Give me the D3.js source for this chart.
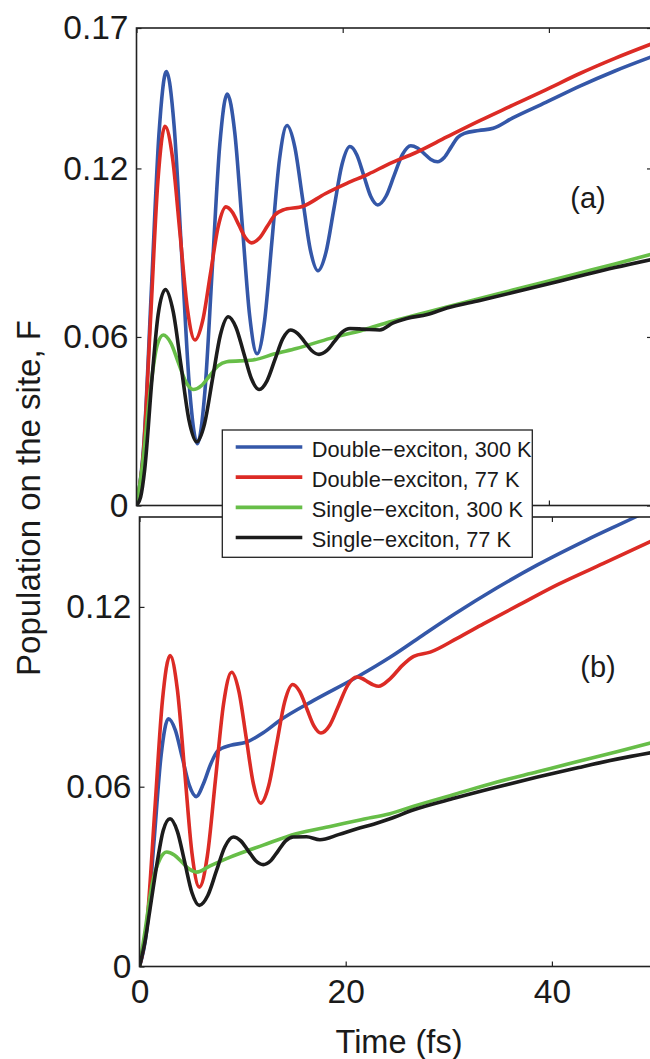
<!DOCTYPE html>
<html>
<head>
<meta charset="utf-8">
<script src="https://d3js.org/d3.v7.min.js"></script>
<style>
  body { margin: 0; background: #fff; }
  svg { display: block; }
  text { font-family: "Liberation Sans", Arial, Helvetica, sans-serif; fill: #1a1a1a; }
</style>
</head>
<body>
<div id="chart"></div>
<script>
// ---- data ----
const timeTicks = [0, 20, 40];
const timeDomain = [0, 50];
const yTicksA = [0, 0.06, 0.12, 0.17];
const yTicksB = [0, 0.06, 0.12];

const seriesNames = ["Double\u2212exciton, 300 K", "Double\u2212exciton, 77 K",
                     "Single\u2212exciton, 300 K", "Single\u2212exciton, 77 K"];

// panel (a)
const aDouble300T = [0,0.725,1.45,2.175,2.9,3.65,4.4,5.15,5.9,6.625,7.35,8.075,8.8,9.525,10.25,10.975,11.7,12.425,13.15,13.875,14.6,15.35,16.1,16.85,17.6,18.375,19.15,19.925,20.7,21.375,22.05,22.725,23.4,24.2,25.0,25.8,26.6,27.25,27.9,28.55,29.2,29.85,30.5,31.15,31.8,33.2,34.6,36.5,39.7,43,46.4,50];
const aDouble300V = [0,0.0226,0.0773,0.132,0.1545,0.1351,0.0883,0.0414,0.022,0.0402,0.0843,0.1283,0.1465,0.133,0.1003,0.0676,0.054,0.0659,0.0947,0.1234,0.1353,0.1277,0.1095,0.0912,0.0836,0.0901,0.1057,0.1213,0.1278,0.1248,0.1174,0.11,0.107,0.1101,0.1176,0.125,0.1281,0.1273,0.1253,0.1232,0.1224,0.1239,0.1275,0.131,0.1325,0.1335,0.1343,0.138,0.1435,0.1493,0.1547,0.1598];

const aDouble77T = [0,0.69,1.38,2.07,2.76,3.49,4.215,4.94,5.67,6.42,7.175,7.93,8.68,9.3,9.925,10.55,11.17,11.93,12.685,13.44,14.2,16.2,18.3,20.4,22.5,24.6,27,30.1,33.3,36.5,39.7,43,46.4,50];
const aDouble77V = [0,0.0198,0.0675,0.1152,0.135,0.1239,0.097,0.07,0.0589,0.0658,0.0826,0.0994,0.1063,0.1044,0.0999,0.0954,0.0935,0.0952,0.0994,0.1035,0.1052,0.1066,0.111,0.1147,0.118,0.1218,0.1255,0.1312,0.137,0.1425,0.148,0.1538,0.1592,0.1644];

const aSingle300T = [0,0.6,1.3,2.0,2.6,3.325,4.05,4.775,5.5,6.3,7.1,7.9,8.75,11.3,13.4,15.5,18.8,22,24.6,27.3,30.1,33.3,36.5,39.7,43,46.4,50];
const aSingle300V = [0,0.015,0.04,0.057,0.0607,0.0579,0.051,0.0441,0.0413,0.0427,0.0462,0.0497,0.0512,0.0518,0.054,0.0559,0.0595,0.0625,0.0654,0.068,0.0707,0.0737,0.0767,0.0797,0.0828,0.086,0.0895];

const aSingle77T = [0,0.4,0.8,1.5,2.1,2.8,3.56,4.32,5.08,5.84,6.605,7.37,8.135,8.9,9.65,10.4,11.15,11.9,12.66,13.425,14.19,14.95,15.64,16.325,17.01,17.7,18.45,19.2,19.95,20.7,22,23.6,24.9,26.2,28.2,30.1,33.3,36.5,39.7,43,46.4,50];
const aSingle77V = [0,0.003,0.013,0.045,0.068,0.0769,0.069,0.0498,0.0306,0.0227,0.0292,0.045,0.0607,0.0672,0.0634,0.0543,0.0451,0.0413,0.0444,0.0519,0.0594,0.0625,0.0612,0.0582,0.0551,0.0538,0.0551,0.0584,0.0617,0.063,0.0628,0.0625,0.065,0.0666,0.068,0.0703,0.073,0.0758,0.0787,0.0817,0.0847,0.0876];

// panel (b)
const bDouble300T = [0,0.7,1.4,2.1,2.8,3.475,4.15,4.825,5.5,6.2,6.9,7.6,8.8,10.4,12,13.6,16.9,21.1,24.3,27.4,30.6,34.6,38.6,43.3,48.1,50];
const bDouble300V = [0,0.0121,0.0414,0.0706,0.0827,0.0789,0.0697,0.0605,0.0567,0.061,0.0675,0.072,0.0738,0.0749,0.078,0.0821,0.0888,0.0966,0.1032,0.1104,0.1177,0.1262,0.134,0.1422,0.15,0.1532];

const bDouble77T = [0,0.74,1.48,2.22,2.96,3.67,4.38,5.09,5.8,6.585,7.37,8.155,8.94,9.64,10.345,11.05,11.75,12.53,13.305,14.08,14.86,15.545,16.23,16.915,17.6,18.47,19.335,20.2,21.07,21.6,22.135,22.67,23.2,24.3,25.5,26.6,28.2,30.8,33.4,37,40.6,45,50];
const bDouble77V = [0,0.0152,0.0519,0.0886,0.1038,0.0925,0.0652,0.0378,0.0265,0.037,0.0624,0.0877,0.0982,0.0918,0.0764,0.0609,0.0545,0.0603,0.0743,0.0883,0.0941,0.0917,0.086,0.0803,0.0779,0.0806,0.0873,0.0939,0.0966,0.0961,0.095,0.094,0.0935,0.096,0.1005,0.1035,0.1049,0.1095,0.1144,0.121,0.1275,0.1345,0.1425];

const bSingle300T = [0,0.5,1.2,2.0,2.64,3.37,4.1,4.82,5.55,6.8,8.8,12,15.2,18.6,21.5,24.3,26.6,30.6,34.6,38.6,42.6,46.3,50];
const bSingle300V = [0,0.011,0.027,0.036,0.0382,0.0372,0.0349,0.0325,0.0315,0.0335,0.0365,0.0405,0.0443,0.0468,0.049,0.051,0.0535,0.0575,0.0615,0.065,0.0685,0.0717,0.075];

const bSingle77T = [0,0.5,1.0,1.7,2.3,2.96,3.67,4.38,5.09,5.8,6.625,7.45,8.275,9.1,9.825,10.55,11.275,12,12.725,13.45,14.175,14.9,16.2,17.5,19.3,21.1,22.7,24.3,26.6,30.6,34.6,38.6,42.6,46.3,50];
const bSingle77V = [0,0.0077,0.0187,0.0344,0.0454,0.0493,0.0451,0.0349,0.0246,0.0204,0.0237,0.0318,0.0399,0.0432,0.0419,0.0386,0.0353,0.034,0.0353,0.0386,0.0419,0.0432,0.0433,0.0423,0.044,0.046,0.0475,0.0493,0.0523,0.0562,0.0598,0.0632,0.0664,0.0692,0.0716];

// ---- styles ----
const seriesColors = ["#3457a8", "#dc2b25", "#67be48", "#1c1c1c"];

const W = 650, H = 1059;
const svg = d3.select("#chart").append("svg").attr("width", W).attr("height", H);

const zip = (ts, vs) => ts.map((t, i) => ({t: t, v: vs[i]}));

function drawPanel(id, box, yDomain, yTicks, series, showXLabels) {
  const x = d3.scaleLinear().domain(timeDomain).range([box.left, box.right]);
  const y = d3.scaleLinear().domain(yDomain).range([box.bottom, box.top]);
  const g = svg.append("g");

  g.append("clipPath").attr("id", "clip-" + id)
    .append("rect").attr("x", box.left).attr("y", box.top)
    .attr("width", box.right - box.left).attr("height", box.bottom - box.top);

  const line = d3.line().x(d => x(d.t)).y(d => y(d.v)).curve(d3.curveMonotoneX);
  const lines = g.append("g").attr("clip-path", "url(#clip-" + id + ")");
  series.forEach((s, i) => {
    lines.append("path").datum(s)
      .attr("fill", "none").attr("stroke", seriesColors[i])
      .attr("stroke-width", 3.6).attr("stroke-linejoin", "round")
      .attr("d", line);
  });

  // inward ticks, labels outside
  const yl = g.append("g").attr("transform", `translate(${box.left},0)`)
    .call(d3.axisLeft(y).tickValues(yTicks).tickFormat(d => d === 0 ? "0" : d3.format(".2f")(d))
      .tickSizeInner(-5).tickSizeOuter(0).tickPadding(8));
  const yr = g.append("g").attr("transform", `translate(${box.right},0)`)
    .call(d3.axisRight(y).tickValues(yTicks).tickFormat("").tickSizeInner(-5).tickSizeOuter(0));
  const xb = g.append("g").attr("transform", `translate(0,${box.bottom})`)
    .call(d3.axisBottom(x).tickValues(timeTicks).tickFormat(showXLabels ? d3.format("d") : "")
      .tickSizeInner(-5).tickSizeOuter(0).tickPadding(13));
  const xt = g.append("g").attr("transform", `translate(0,${box.top})`)
    .call(d3.axisTop(x).tickValues(timeTicks).tickFormat("").tickSizeInner(-5).tickSizeOuter(0));

  [yl, yr, xb, xt].forEach(a => {
    a.select(".domain").remove();
    a.selectAll("line").attr("stroke", "#222").attr("stroke-width", 1.2);
    a.selectAll("text").attr("font-size", 33.5).attr("fill", "#1a1a1a")
      .attr("font-family", "'Liberation Sans', Arial, sans-serif");
  });

  g.append("rect").attr("x", box.left).attr("y", box.top)
    .attr("width", box.right - box.left).attr("height", box.bottom - box.top)
    .attr("fill", "none").attr("stroke", "#222").attr("stroke-width", 1.6);

  return {x: x, y: y, g: g};
}

const panelA = drawPanel("a", {left: 136.5, right: 652, top: 28, bottom: 505.5}, [0, 0.17], yTicksA,
  [zip(aDouble300T, aDouble300V), zip(aDouble77T, aDouble77V), zip(aSingle300T, aSingle300V), zip(aSingle77T, aSingle77V)], false);

const panelB = drawPanel("b", {left: 139.5, right: 655, top: 517, bottom: 966.5}, [0, 0.15], yTicksB,
  [zip(bDouble300T, bDouble300V), zip(bDouble77T, bDouble77V), zip(bSingle300T, bSingle300V), zip(bSingle77T, bSingle77V)], true);

// panel tags
svg.append("text").attr("x", 588).attr("y", 208).attr("text-anchor", "middle")
  .attr("font-size", 29).text("(a)");
svg.append("text").attr("x", 598).attr("y", 677).attr("text-anchor", "middle")
  .attr("font-size", 29).text("(b)");

// axis titles
svg.append("text").attr("transform", "translate(40,498) rotate(-90)")
  .attr("text-anchor", "middle").attr("font-size", 33).text("Population on the site, F");
svg.append("text").attr("x", 399).attr("y", 1053).attr("text-anchor", "middle")
  .attr("font-size", 32.5).text("Time (fs)");

// legend
const legend = svg.append("g");
legend.append("rect").attr("x", 222.3).attr("y", 430).attr("width", 310).attr("height", 127.3)
  .attr("fill", "#fff").attr("stroke", "#222").attr("stroke-width", 1.3);
const legendY = d3.scalePoint().domain(seriesNames).range([447, 537.5]);
seriesNames.forEach((name, i) => {
  const yy = legendY(name);
  legend.append("line").attr("x1", 235.7).attr("x2", 302.3).attr("y1", yy).attr("y2", yy)
    .attr("stroke", seriesColors[i]).attr("stroke-width", 3.6);
  legend.append("text").attr("x", 311.7).attr("y", yy + 9.5)
    .attr("font-size", 21.8).text(name);
});
</script>
</body>
</html>
